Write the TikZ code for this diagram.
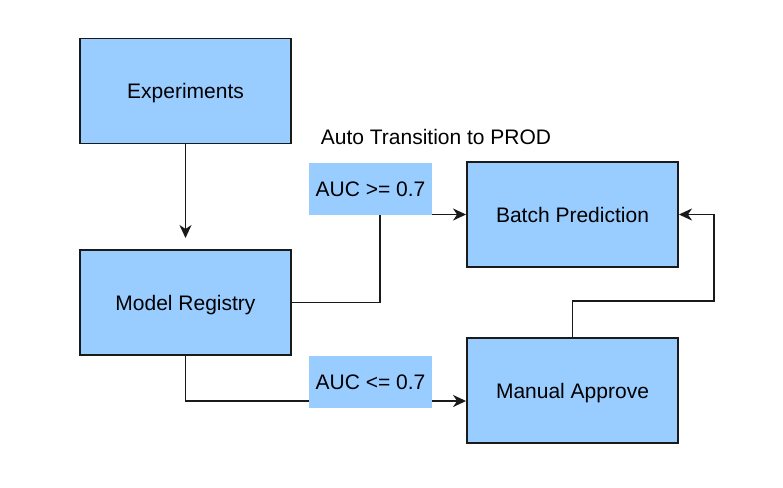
\documentclass[tikz,border=0pt]{standalone}
\usepackage{fontspec}
\setmainfont{Liberation Sans}
\usetikzlibrary{arrows.meta}
\definecolor{boxblue}{HTML}{99CCFF}
\definecolor{edge}{HTML}{1A1A1A}
\begin{document}
\begin{tikzpicture}[x=1pt,y=-1pt,
  every node/.style={font=\fontsize{21}{25}\selectfont, inner sep=0pt, text height=15pt, text depth=0pt},
  blockbox/.style={draw=edge, fill=boxblue, line width=1.9pt, minimum width=211pt, minimum height=105pt},
  condlabel/.style={fill=boxblue, minimum width=123pt, minimum height=52pt},
  conn/.style={draw=edge, line width=1.9pt, -{Stealth[length=13pt,width=12pt,inset=4pt]}}
]
\useasboundingbox (0,0) rectangle (783,487);
\node[blockbox] (exp) at (185.5,91) {Experiments};
\node[blockbox] (reg) at (185.5,302.5) {Model Registry};
\node[blockbox] (bat) at (572.5,214.5) {Batch Prediction};
\node[blockbox] (man) at (572.5,390.5) {Manual Approve};
\coordinate (e1) at (185.5,238);
\draw[conn] (exp.south) -- (e1);
\draw[conn] (reg.east) -- ++(88,0) |- (bat.west);
\draw[conn] (reg.south) |- ([yshift=-10.5pt]man.west);
\draw[conn] (man.north) -- ++(0,-36) -| ([xshift=35pt]bat.east) -- (bat.east);
\node[condlabel] (gt) at (370.5,188.5) {AUC >= 0.7};
\node[condlabel] (le) at (370.5,382) {AUC <= 0.7};
\node (auto) at (436,136.5) {Auto Transition to PROD};
\end{tikzpicture}
\end{document}
